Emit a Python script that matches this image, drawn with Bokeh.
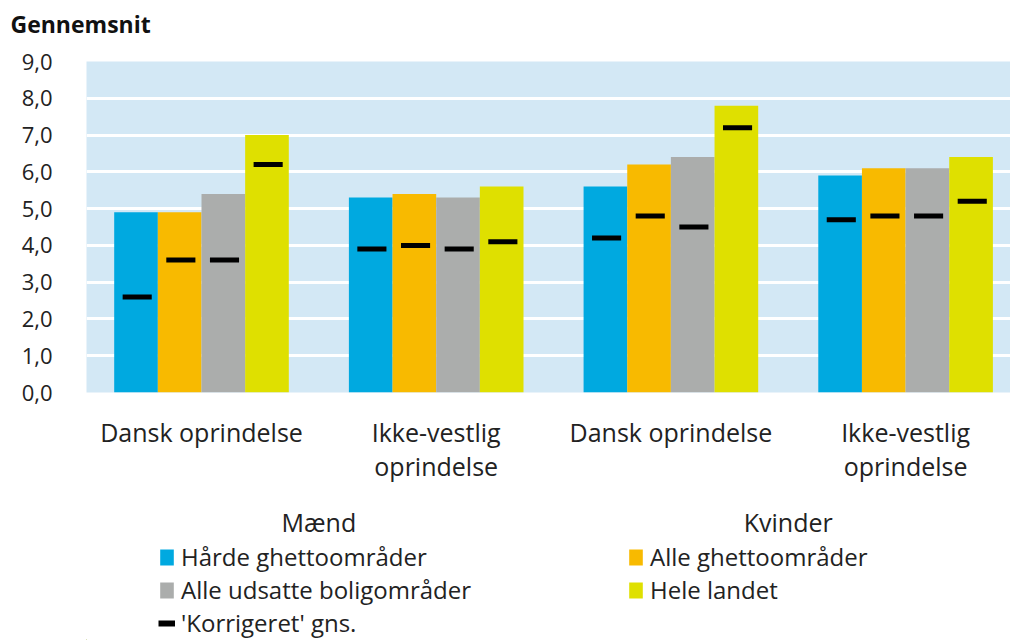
from bokeh.plotting import figure
from bokeh.layouts import column
from bokeh.models import (FixedTicker, Legend, LegendItem, Range1d,
                          CustomJSTickFormatter)
from bokeh.core.properties import value
from bokeh.embed import file_html
from bokeh.resources import INLINE

# ---- data ----
title_text = "Gennemsnit"
categories = ["Dansk oprindelse", "Ikke-vestlig\noprindelse",
              "Dansk oprindelse", "Ikke-vestlig\noprindelse"]
groups = ["Mænd", "Kvinder"]
group_x = [1.0, 3.0]
series_names = ["Hårde ghettoområder", "Alle ghettoområder",
                "Alle udsatte boligområder", "Hele landet"]
haarde = [4.9, 5.3, 5.6, 5.9]
alle_ghetto = [4.9, 5.4, 6.2, 6.1]
udsatte = [5.4, 5.3, 6.4, 6.1]
hele = [7.0, 5.6, 7.8, 6.4]
korr_haarde = [2.6, 3.9, 4.2, 4.7]
korr_alle_ghetto = [3.6, 4.0, 4.8, 4.8]
korr_udsatte = [3.6, 3.9, 4.5, 4.8]
korr_hele = [6.2, 4.1, 7.2, 5.2]
korr_label = "'Korrigeret' gns."
y_ticks = [0, 1, 2, 3, 4, 5, 6, 7, 8, 9]

colors = ["#00A9E0", "#F8BA00", "#ABADAC", "#DFE000"]
FONT = "Open Sans"
FS = "25px"
LFS = "24px"
TXT = "#222222"

xr = Range1d(0.01, 3.947)

# ---------------- title strip ----------------
t = figure(width=1010, height=46, output_backend="svg", toolbar_location=None,
           x_range=xr, y_range=Range1d(0, 1),
           min_border_left=86, min_border_right=0, min_border_top=0, min_border_bottom=0)
t.outline_line_color = None
t.axis.visible = False
t.grid.visible = False
t.background_fill_color = "white"
t.border_fill_color = "white"
t.title.text = title_text
t.title.text_font = FONT
t.title.text_font_size = "23px"
t.title.text_font_style = "bold"
t.title.text_color = "#111111"
t.title.align = "left"
t.title.offset = -76
t.title.standoff = 10

# ---------------- main chart ----------------
p = figure(width=1010, height=439, output_backend="svg", toolbar_location=None,
           x_range=xr, y_range=Range1d(0, 9),
           min_border_left=86, min_border_right=0, min_border_top=15,
           min_border_bottom=90)
p.outline_line_color = None
p.background_fill_color = "#D3E8F5"
p.border_fill_color = "white"

xc = [0.5, 1.5, 2.5, 3.5]
w = 0.186
offsets = [-1.5 * w, -0.5 * w, 0.5 * w, 1.5 * w]
bar_vals = [haarde, alle_ghetto, udsatte, hele]
korr_vals = [korr_haarde, korr_alle_ghetto, korr_udsatte, korr_hele]

for vals, kv, off, col in zip(bar_vals, korr_vals, offsets, colors):
    xs = [x + off for x in xc]
    p.vbar(x=xs, top=vals, width=w, bottom=0, fill_color=col, line_color=None)
    p.rect(x=[x + 0.005 for x in xs], y=kv, width=0.124, height=5, height_units="screen",
           fill_color="black", line_color=None)

p.xgrid.grid_line_color = None
p.ygrid.grid_line_color = "white"
p.ygrid.grid_line_width = 3
p.ygrid.ticker = FixedTicker(ticks=y_ticks)

p.yaxis.ticker = FixedTicker(ticks=y_ticks)
p.yaxis.formatter = CustomJSTickFormatter(code="return tick.toFixed(1).replace('.', ',');")
p.yaxis.axis_line_color = None
p.yaxis.major_tick_line_color = None
p.yaxis.minor_tick_line_color = None
p.yaxis.major_label_text_font = FONT
p.yaxis.major_label_text_font_size = "22px"
p.yaxis.major_label_text_color = TXT
p.yaxis.major_label_standoff = 28

p.xaxis.ticker = FixedTicker(ticks=xc)
p.xaxis.major_label_overrides = {x: c for x, c in zip(xc, categories)}
p.xaxis.axis_line_color = None
p.xaxis.major_tick_line_color = None
p.xaxis.minor_tick_line_color = None
p.xaxis.major_label_text_font = FONT
p.xaxis.major_label_text_font_size = FS
p.xaxis.major_label_text_color = TXT
p.xaxis.major_label_text_line_height = 1.0
p.xaxis.major_label_standoff = 16

# ---------------- group labels + legend ----------------
q = figure(width=1010, height=155, output_backend="svg", toolbar_location=None,
           x_range=xr, y_range=Range1d(0, 155),
           min_border_left=86, min_border_right=0, min_border_top=0, min_border_bottom=0)
q.outline_line_color = None
q.axis.visible = False
q.grid.visible = False
q.background_fill_color = "white"
q.border_fill_color = "white"

q.text(x=group_x, y=[119, 119], text=groups, text_align="center", text_baseline="middle",
       text_font=value(FONT), text_font_size=FS, text_color=TXT)

# off-screen renderers that only supply legend glyphs
dummy = [q.vbar(x=[-5], top=[1], width=0.1, fill_color=c, line_color=None) for c in colors]
dash_r = q.line(x=[-6, -5], y=[1, 1], line_color="black", line_width=6)

leg_common = dict(border_line_color=None, background_fill_alpha=0, padding=0, margin=0,
                  spacing=0, glyph_width=17, glyph_height=20, label_height=24,
                  label_standoff=6, label_text_font=FONT, label_text_font_size=LFS,
                  label_text_color=TXT)
leg1 = Legend(items=[LegendItem(label=series_names[0], renderers=[dummy[0]]),
                     LegendItem(label=series_names[2], renderers=[dummy[2]]),
                     LegendItem(label=korr_label, renderers=[dash_r])],
              location=(72, 1), **leg_common)
leg2 = Legend(items=[LegendItem(label=series_names[1], renderers=[dummy[1]]),
                     LegendItem(label=series_names[3], renderers=[dummy[3]])],
              location=(541, 34), **leg_common)
q.add_layout(leg1, "center")
q.add_layout(leg2, "center")

layout = column(t, p, q, spacing=0)
open("out.html", "w").write(file_html(layout, INLINE))
